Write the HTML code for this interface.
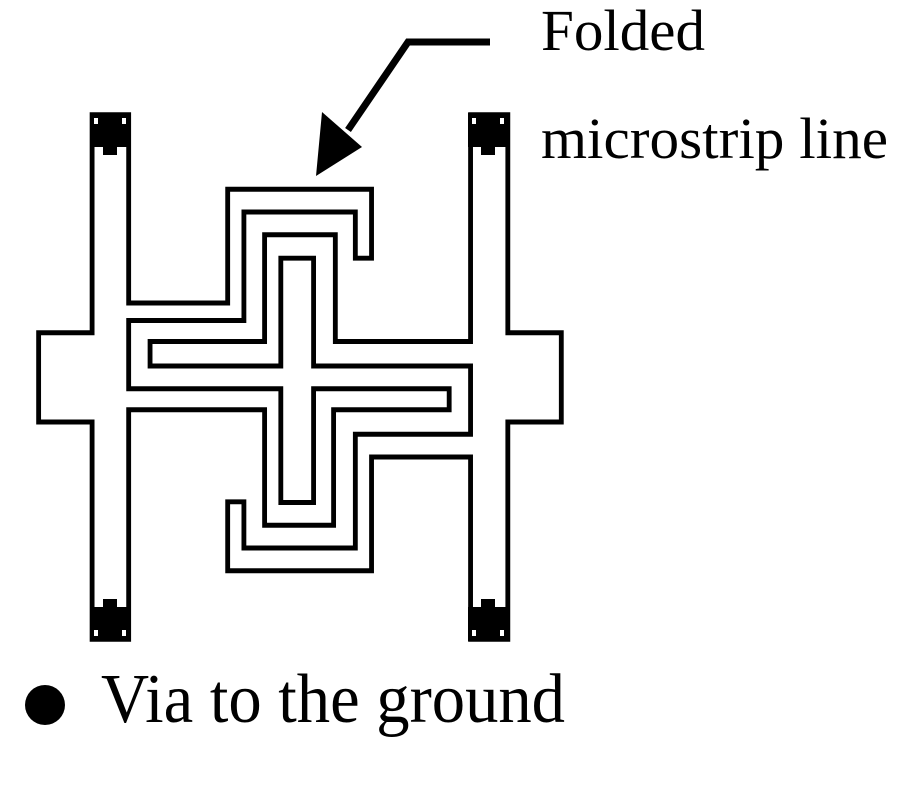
<!DOCTYPE html>
<html><head><style>
html,body{margin:0;padding:0;background:#fff;}
svg{display:block;}
text{font-family:"Liberation Serif",serif;fill:#000;}
</style></head><body>
<svg width="900" height="800" viewBox="0 0 900 800" xmlns="http://www.w3.org/2000/svg">
<rect width="900" height="800" fill="#fff"/>
<g transform="translate(30,100) scale(0.345,0.35)" fill="none" stroke="#000" stroke-width="14" stroke-linejoin="miter">
<polygon points="286,42 286,580 573,580 573,255 990,255 990,452 943,452 943,320 620,320 620,630 286,630 286,825 727,825 727,1150 822,1150 822,825 1215,825 1215,885 880,885 880,1215 680,1215 680,885 286,885 286,1541 180,1541 180,920 25,920 25,665 180,665 180,42"/>
<polygon points="1277,42 1277,690 885,690 885,385 680,385 680,690 348,690 348,760 727,760 727,452 822,452 822,760 1277,760 1277,955 943,955 943,1280 620,1280 620,1148 573,1148 573,1345 990,1345 990,1020 1277,1020 1277,1541 1385,1541 1385,920 1540,920 1540,665 1385,665 1385,42"/>
</g>
<g fill="#000">
<rect x="90" y="113" width="40" height="34"/><rect x="103" y="145" width="14" height="10"/>
<rect x="468" y="113" width="40" height="34"/><rect x="481" y="145" width="14" height="10"/>
<rect x="90" y="607" width="40" height="34"/><rect x="103" y="599" width="14" height="10"/>
<rect x="468" y="607" width="40" height="34"/><rect x="481" y="599" width="14" height="10"/>
</g>
<g fill="#fff">
<rect x="94" y="118" width="4" height="6"/><rect x="122" y="118" width="4" height="6"/>
<rect x="472" y="118" width="4" height="6"/><rect x="500" y="118" width="4" height="6"/>
<rect x="94" y="630" width="4" height="6"/><rect x="122" y="630" width="4" height="6"/>
<rect x="472" y="630" width="4" height="6"/><rect x="500" y="630" width="4" height="6"/>
</g>
<polyline points="490,42 408,42 348,130" fill="none" stroke="#000" stroke-width="7"/>
<polygon points="316,176 322,112 362,147" fill="#000"/>
<text x="541" y="50" font-size="58" textLength="164" lengthAdjust="spacingAndGlyphs">Folded</text>
<text x="541" y="158" font-size="58" textLength="347" lengthAdjust="spacingAndGlyphs">microstrip line</text>
<circle cx="45" cy="705" r="20" fill="#000"/>
<text x="101" y="722" font-size="70" textLength="464" lengthAdjust="spacingAndGlyphs">Via to the ground</text>
</svg>
</body></html>
